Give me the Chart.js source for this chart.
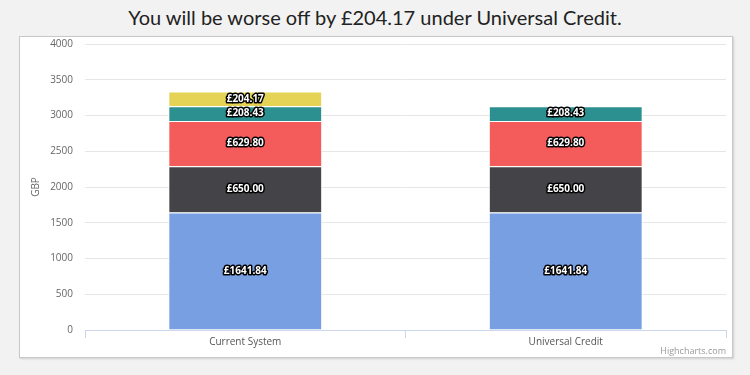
<!DOCTYPE html>
<html>
<head>
<meta charset="utf-8">
<script src="https://cdn.jsdelivr.net/npm/chart.js@4/dist/chart.umd.min.js"></script>
<style>
    html, body { margin: 0; padding: 0; background: #f2f2f2; }
    body { width: 750px; height: 375px; position: relative; overflow: hidden; }
    #title {
        position: absolute; left: 0; top: 5px; width: 750px; text-align: center;
        font-family: Lato, "Noto Sans", sans-serif; font-size: 20px; color: #222;
    }
    #box {
        position: absolute; left: 19px; top: 36px; width: 712px; height: 320px;
        background: #fff; border: 1px solid #c8c8c8; box-shadow: 1px 1px 2px rgba(0,0,0,0.15);
    }
    #credit {
        position: absolute; right: 6px; bottom: 0px;
        font-family: "Open Sans", sans-serif; font-size: 9px; color: #999;
    }
</style>
</head>
<body>
<div id="title">You will be worse off by £204.17 under Universal Credit.</div>
<div id="box">
    <canvas id="chart" width="712" height="320"></canvas>
    <span id="credit">Highcharts.com</span>
</div>
<script>
const categories = ['Current System', 'Universal Credit'];
const seriesA = [1641.84, 1641.84];
const seriesB = [650.00, 650.00];
const seriesC = [629.80, 629.80];
const seriesD = [208.43, 208.43];
const seriesE = [204.17, null];
const yTicks = [0, 500, 1000, 1500, 2000, 2500, 3000, 3500, 4000];

const colors = ['#779fe2', '#434348', '#f45b5b', '#2b908f', '#e4d354'];
const allSeries = [seriesA, seriesB, seriesC, seriesD, seriesE];

const dataLabels = {
    id: 'dataLabels',
    afterDatasetsDraw(chart) {
        const ctx = chart.ctx;
        ctx.save();
        ctx.font = 'bold 10px "Open Sans", sans-serif';
        ctx.textAlign = 'center';
        ctx.textBaseline = 'middle';
        ctx.lineJoin = 'round';
        chart.data.datasets.forEach((ds, i) => {
            const meta = chart.getDatasetMeta(i);
            meta.data.forEach((bar, j) => {
                const v = ds.data[j];
                if (v === null || v === undefined) return;
                const text = '£' + v.toFixed(2);
                const y = (bar.y + bar.base) / 2;
                ctx.lineWidth = 3;
                ctx.strokeStyle = '#000';
                ctx.strokeText(text, bar.x, y);
                ctx.fillStyle = '#fff';
                ctx.fillText(text, bar.x, y);
            });
        });
        ctx.restore();
    }
};

new Chart(document.getElementById('chart'), {
    type: 'bar',
    data: {
        labels: categories,
        datasets: allSeries.map((data, i) => ({
            data,
            backgroundColor: colors[i],
            borderColor: '#ffffff',
            borderWidth: 1,
            barPercentage: 1,
            categoryPercentage: 0.48
        }))
    },
    options: {
        responsive: false,
        animation: false,
        layout: { padding: { top: 7, right: 6, left: 0, bottom: 0 } },
        plugins: {
            legend: { display: false },
            tooltip: { enabled: false }
        },
        scales: {
            x: {
                stacked: true,
                afterFit(scale) { scale.height = 27; },
                grid: {
                    offset: true,
                    drawOnChartArea: false,
                    drawTicks: true,
                    tickLength: 8,
                    color: '#ccd6eb'
                },
                border: { color: '#ccd6eb' },
                ticks: {
                    padding: -2,
                    color: '#555',
                    font: { family: '"Open Sans", sans-serif', size: 10 }
                }
            },
            y: {
                stacked: true,
                min: 0,
                max: 4000,
                afterFit(scale) {
                    scale.width = 65;
                    scale.paddingTop = 0;
                    scale.paddingBottom = 0;
                },
                afterBuildTicks(scale) { scale.ticks = yTicks.map(v => ({ value: v })); },
                grid: { color: '#e6e6e6', drawTicks: false },
                border: { display: false },
                ticks: {
                    padding: 12,
                    color: '#666',
                    font: { family: '"Open Sans", sans-serif', size: 10 },
                    callback: (v) => String(v)
                },
                title: {
                    display: true,
                    text: 'GBP',
                    color: '#666',
                    padding: { top: 10, bottom: 0 },
                    font: { family: '"Open Sans", sans-serif', size: 10 }
                }
            }
        }
    },
    plugins: [dataLabels]
});
</script>
</body>
</html>
